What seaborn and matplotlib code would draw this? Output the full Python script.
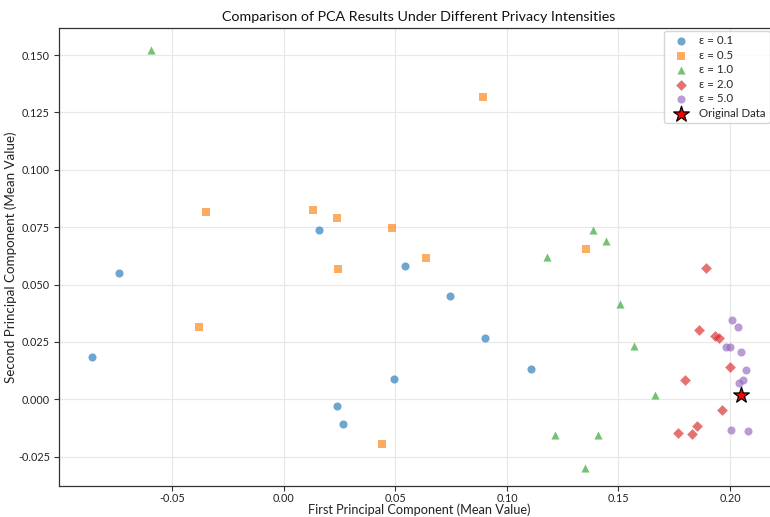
import matplotlib
matplotlib.use("Agg")
import matplotlib.pyplot as plt
import seaborn as sns
import pandas as pd

eps01_x = [-0.0861, -0.0741, 0.0158, 0.0541, 0.0746, 0.0903, 0.0495, 0.0238, 0.0265, 0.1109]
eps01_y = [0.0184, 0.0552, 0.0737, 0.0580, 0.0452, 0.0267, 0.0087, -0.0028, -0.0109, 0.0132]

eps05_x = [-0.0380, -0.0348, 0.0129, 0.0236, 0.0483, 0.0635, 0.0244, 0.0892, 0.0441, 0.1353]
eps05_y = [0.0314, 0.0818, 0.0823, 0.0789, 0.0747, 0.0615, 0.0567, 0.1317, -0.0196, 0.0655]

eps10_x = [-0.0596, 0.1384, 0.1444, 0.1181, 0.1505, 0.1571, 0.1664, 0.1215, 0.1409, 0.1351]
eps10_y = [0.1523, 0.0738, 0.0688, 0.0621, 0.0414, 0.0231, 0.0017, -0.0154, -0.0154, -0.0298]

eps20_x = [0.1892, 0.1859, 0.1934, 0.1949, 0.2001, 0.1798, 0.1966, 0.1851, 0.1828, 0.1767]
eps20_y = [0.0574, 0.0300, 0.0275, 0.0267, 0.0140, 0.0083, -0.0047, -0.0115, -0.0153, -0.0147]

eps50_x = [0.2010, 0.2036, 0.1981, 0.1999, 0.2049, 0.2070, 0.2060, 0.2040, 0.2004, 0.2082]
eps50_y = [0.0345, 0.0314, 0.0228, 0.0228, 0.0206, 0.0128, 0.0084, 0.0070, -0.0132, -0.0140]

orig_x = [0.2051]
orig_y = [0.0019]

labels = ["ε = 0.1", "ε = 0.5", "ε = 1.0", "ε = 2.0", "ε = 5.0"]

series = [
    (eps01_x, eps01_y, "o", "#1f77b4"),
    (eps05_x, eps05_y, "s", "#ff7f0e"),
    (eps10_x, eps10_y, "^", "#2ca02c"),
    (eps20_x, eps20_y, "D", "#d62728"),
    (eps50_x, eps50_y, "o", "#9467bd"),
]

sns.set_theme(style="whitegrid")
plt.rcParams["font.family"] = ["Lato", "DejaVu Sans"]

fig = plt.figure(figsize=(7.7, 5.17), dpi=100)
ax_h = 458
ax = fig.add_axes([59 / 770, 31 / 517, 720 / 770, ax_h / 517])

for (xs, ys, m, c), lab in zip(series, labels):
    df = pd.DataFrame({"x": xs, "y": ys})
    sns.scatterplot(data=df, x="x", y="y", marker=m, color=c, alpha=0.65,
                    s=34 if m != "D" else 30, linewidth=0, label=lab, ax=ax)

df0 = pd.DataFrame({"x": orig_x, "y": orig_y})
sns.scatterplot(data=df0, x="x", y="y", marker="*", color="red", s=140,
                edgecolor="black", linewidth=0.9, label="Original Data", ax=ax)

ax.set_xlim(-0.1009, 0.222)
ax.set_ylim(-0.0378, 0.1618)
ax.set_xticks([-0.05, 0.0, 0.05, 0.10, 0.15, 0.20])
ax.set_xticklabels(["-0.05", "0.00", "0.05", "0.10", "0.15", "0.20"])
ax.set_yticks([-0.025, 0.0, 0.025, 0.05, 0.075, 0.10, 0.125, 0.15])
ax.set_yticklabels(["-0.025", "0.000", "0.025", "0.050", "0.075", "0.100", "0.125", "0.150"])

ax.grid(True, color="#e8e8e8", linewidth=0.9)
for sp in ax.spines.values():
    sp.set_color("#333333")
    sp.set_linewidth(0.9)
ax.tick_params(axis="both", which="major", length=3.5, width=0.8, color="#333333",
               labelsize=7.8, labelcolor="#222222", bottom=True, left=True)
ax.tick_params(axis="x", pad=1.5)
ax.tick_params(axis="y", pad=3)

ax.set_title("Comparison of PCA Results Under Different Privacy Intensities",
             fontsize=10.3, color="#111111", pad=5)
ax.set_xlabel("First Principal Component (Mean Value)", fontsize=9.2, color="#222222",
              va="bottom")
ax.set_ylabel("Second Principal Component (Mean Value)", fontsize=9.6, color="#222222")
ax.xaxis.set_label_coords(0.5, -30.5 / ax_h)
ax.yaxis.set_label_coords(-42 / 720, 0.5)

leg = ax.legend(loc="upper right", bbox_to_anchor=(1.0 - 6 / 720, 1.0), fontsize=8.3,
                frameon=True, borderpad=0.4, handletextpad=0.6, labelspacing=0.3,
                borderaxespad=0.25)
leg.get_frame().set_edgecolor("#cccccc")

fig.savefig("out.png", dpi=100)
